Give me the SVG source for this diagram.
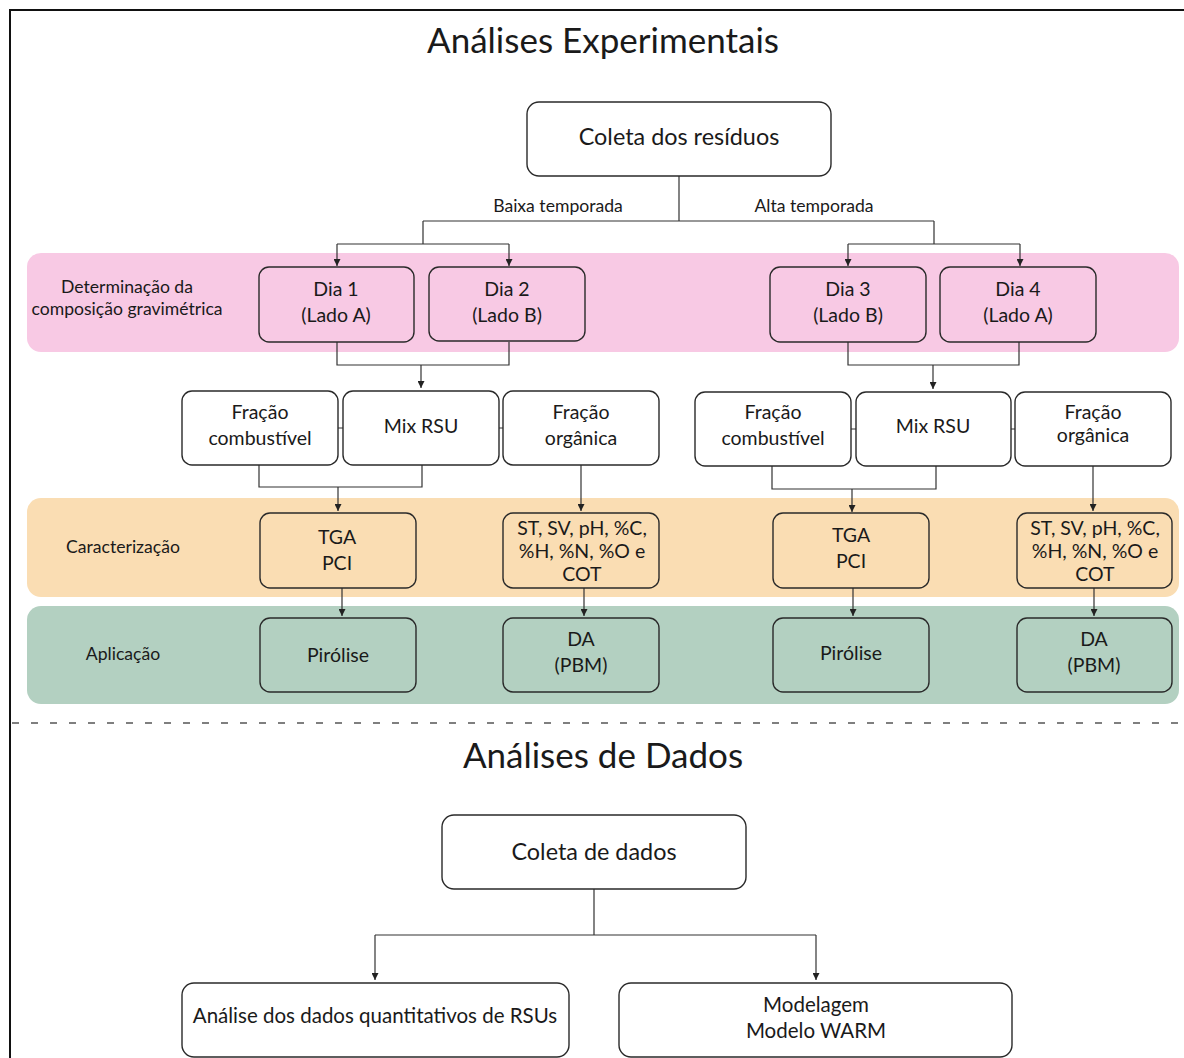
<svg xmlns="http://www.w3.org/2000/svg" width="1184" height="1058" viewBox="0 0 1184 1058">
<defs>
<marker id="arr" viewBox="0 0 10 10" refX="10" refY="5" markerWidth="7" markerHeight="7" markerUnits="userSpaceOnUse" orient="auto">
<path d="M0,0 L10,5 L0,10 z" fill="#222"/>
</marker>
</defs>
<style>
text{font-family:Lato,"Noto Sans",sans-serif;fill:#1a1a1a;text-anchor:middle}
.title{font-size:35px}
.big{font-size:23.4px}
.med{font-size:19.5px}
.wide{font-size:20.5px}
.sm{font-size:17.6px}
.box{stroke:#2a2a2a;stroke-width:1.4;fill:#fff}
.pinkb{fill:#F8C9E4}
.orb{fill:#FADDB3}
.grb{fill:#B3D0C1}
.c{fill:none;stroke:#333;stroke-width:1.2}
.ca{fill:none;stroke:#333;stroke-width:1.2;marker-end:url(#arr)}
</style>
<rect width="1184" height="1058" fill="#fff"/>
<path d="M10,1058 V10 H1184" fill="none" stroke="#111" stroke-width="2"/>
<g id="bands">
<rect class="pinkb" x="27" y="253" width="1152" height="99" rx="14"/>
<rect class="orb" x="27" y="498" width="1152" height="99" rx="14"/>
<rect class="grb" x="27" y="606" width="1152" height="98" rx="14"/>
</g>
<line x1="12" y1="723" x2="1184" y2="723" stroke="#555" stroke-width="1.6" stroke-dasharray="7 12"/>
<text class="title" x="603" y="53">Análises Experimentais</text>
<text class="title" x="603" y="768">Análises de Dados</text>
<g id="labels">
<text class="sm" x="127" y="293">Determinação da</text>
<text class="sm" x="127" y="315">composição gravimétrica</text>
<text class="sm" x="123" y="553">Caracterização</text>
<text class="sm" x="123" y="660">Aplicação</text>
<text class="sm" x="558" y="212">Baixa temporada</text>
<text class="sm" x="814" y="212">Alta temporada</text>
</g>
<g id="connectors">
<path class="c" d="M679,176 V221 M423,221 H934 M423,221 V244 M934,221 V244 M337,244 H509 M848,244 H1020"/>
<path class="ca" d="M337,244 V266"/>
<path class="ca" d="M509,244 V266"/>
<path class="ca" d="M848,244 V266"/>
<path class="ca" d="M1020,244 V266"/>
<path class="c" d="M337,342 V365 H509 V342 M848,342 V365 H1019 V342"/>
<path class="ca" d="M421,365 V388"/>
<path class="ca" d="M933,365 V389"/>
<path class="c" d="M338,428 H343 M499,428 H503 M851,429 H856 M1011,429 H1015"/>
<path class="c" d="M259,465 V487 H422 V465 M772,466 V489 H936 V466"/>
<path class="ca" d="M338,487 V511"/>
<path class="ca" d="M852,489 V512"/>
<path class="ca" d="M581,465 V511"/>
<path class="ca" d="M1093,466 V511"/>
<path class="ca" d="M342,588 V616"/>
<path class="ca" d="M584,588 V616"/>
<path class="ca" d="M853,588 V616"/>
<path class="ca" d="M1094,588 V616"/>
<path class="c" d="M594,889 V935 M375,935 H816"/>
<path class="ca" d="M375,935 V980"/>
<path class="ca" d="M816,935 V980"/>
</g>
<g id="coleta">
<rect class="box" x="527" y="102" width="304" height="74" rx="12"/>
<text class="big" x="679" y="145">Coleta dos resíduos</text>
</g>
<g id="dia1">
<rect class="box pinkb" x="259" y="267" width="155" height="75" rx="10"/>
<text class="med" x="336" y="296">Dia 1</text>
<text class="med" x="336" y="322">(Lado A)</text>
</g>
<g id="dia2">
<rect class="box pinkb" x="429" y="267" width="156" height="74" rx="10"/>
<text class="med" x="507" y="296">Dia 2</text>
<text class="med" x="507" y="322">(Lado B)</text>
</g>
<g id="dia3">
<rect class="box pinkb" x="770" y="267" width="156" height="75" rx="10"/>
<text class="med" x="848" y="296">Dia 3</text>
<text class="med" x="848" y="322">(Lado B)</text>
</g>
<g id="dia4">
<rect class="box pinkb" x="940" y="267" width="156" height="75" rx="10"/>
<text class="med" x="1018" y="296">Dia 4</text>
<text class="med" x="1018" y="322">(Lado A)</text>
</g>
<g id="fcomb1">
<rect class="box" x="182" y="391" width="156" height="74" rx="10"/>
<text class="med" x="260" y="419">Fração</text>
<text class="med" x="260" y="445">combustível</text>
</g>
<g id="mix1">
<rect class="box" x="343" y="391" width="156" height="74" rx="10"/>
<text class="med" x="421" y="433">Mix RSU</text>
</g>
<g id="forg1">
<rect class="box" x="503" y="391" width="156" height="74" rx="10"/>
<text class="med" x="581" y="419">Fração</text>
<text class="med" x="581" y="445">orgânica</text>
</g>
<g id="fcomb2">
<rect class="box" x="695" y="392" width="156" height="74" rx="10"/>
<text class="med" x="773" y="419">Fração</text>
<text class="med" x="773" y="445">combustível</text>
</g>
<g id="mix2">
<rect class="box" x="856" y="392" width="155" height="74" rx="10"/>
<text class="med" x="933" y="433">Mix RSU</text>
</g>
<g id="forg2">
<rect class="box" x="1015" y="392" width="156" height="74" rx="10"/>
<text class="med" x="1093" y="419">Fração</text>
<text class="med" x="1093" y="442">orgânica</text>
</g>
<g id="tga1">
<rect class="box orb" x="260" y="513" width="156" height="75" rx="10"/>
<text class="med" x="337" y="544">TGA</text>
<text class="med" x="337" y="570">PCI</text>
</g>
<g id="st1">
<rect class="box orb" x="503" y="513" width="156" height="75" rx="10"/>
<text class="med" x="582" y="535">ST, SV, pH, %C,</text>
<text class="med" x="582" y="558">%H, %N, %O e</text>
<text class="med" x="582" y="581">COT</text>
</g>
<g id="tga2">
<rect class="box orb" x="773" y="513" width="156" height="75" rx="10"/>
<text class="med" x="851" y="542">TGA</text>
<text class="med" x="851" y="568">PCI</text>
</g>
<g id="st2">
<rect class="box orb" x="1017" y="513" width="155" height="75" rx="10"/>
<text class="med" x="1095" y="535">ST, SV, pH, %C,</text>
<text class="med" x="1095" y="558">%H, %N, %O e</text>
<text class="med" x="1095" y="581">COT</text>
</g>
<g id="pir1">
<rect class="box grb" x="260" y="618" width="156" height="74" rx="10"/>
<text class="med" x="338" y="662">Pirólise</text>
</g>
<g id="da1">
<rect class="box grb" x="503" y="618" width="156" height="74" rx="10"/>
<text class="med" x="581" y="646">DA</text>
<text class="med" x="581" y="672">(PBM)</text>
</g>
<g id="pir2">
<rect class="box grb" x="773" y="618" width="156" height="74" rx="10"/>
<text class="med" x="851" y="660">Pirólise</text>
</g>
<g id="da2">
<rect class="box grb" x="1017" y="618" width="155" height="74" rx="10"/>
<text class="med" x="1094" y="646">DA</text>
<text class="med" x="1094" y="672">(PBM)</text>
</g>
<g id="coletadados">
<rect class="box" x="442" y="815" width="304" height="74" rx="12"/>
<text class="big" x="594" y="860">Coleta de dados</text>
</g>
<g id="analise">
<rect class="box" x="182" y="983" width="387" height="74" rx="12"/>
<text class="wide" x="375" y="1023">Análise dos dados quantitativos de RSUs</text>
</g>
<g id="modelagem">
<rect class="box" x="619" y="983" width="393" height="74" rx="12"/>
<text class="wide" x="816" y="1012">Modelagem</text>
<text class="wide" x="816" y="1038">Modelo WARM</text>
</g>
</svg>
